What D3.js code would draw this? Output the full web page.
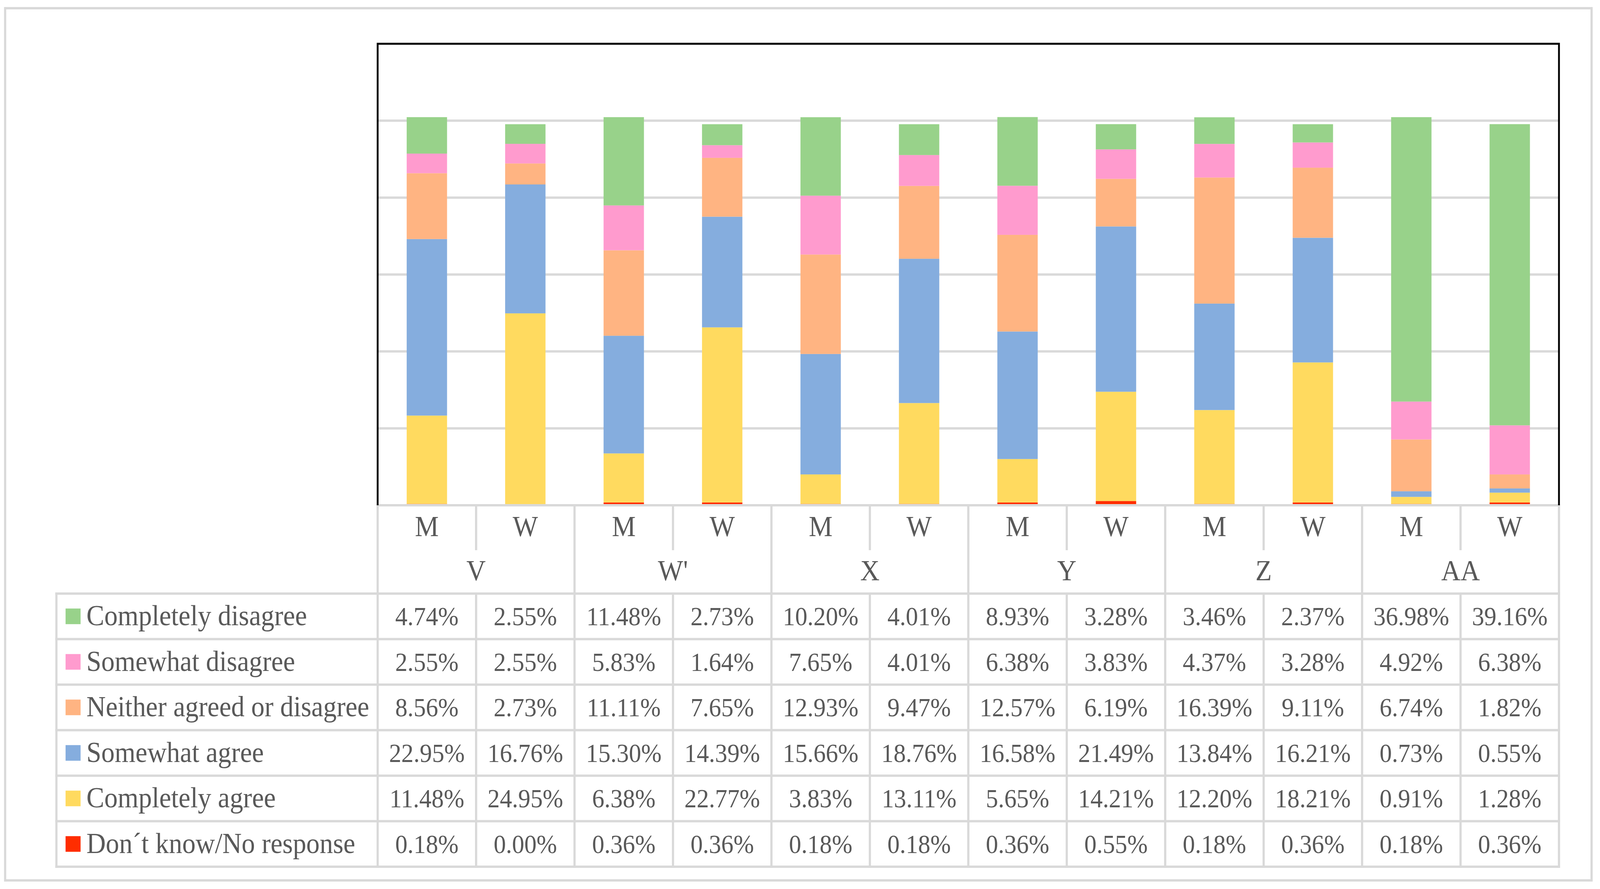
<!DOCTYPE html>
<html lang="en">
<head>
<meta charset="utf-8">
<title>Stacked bars with data table</title>
<style>
  html, body { margin: 0; padding: 0; background: #fff; overflow: hidden; }
  svg { display: block; width: 100vw; height: 100vh; }
  text { font-family: "Liberation Serif", "DejaVu Serif", serif; fill: #595959; }
</style>
</head>
<body>
<div id="chart"></div>
<script src="https://d3js.org/d3.v7.min.js"></script>
<script>
  // Groups and sub groups
  const groups = ["V", "W'", "X", "Y", "Z", "AA"];
  const genders = ["M", "W"];

  // Series, top row of the table first
  const seriesNames = [
    "Completely disagree",
    "Somewhat disagree",
    "Neither agreed or disagree",
    "Somewhat agree",
    "Completely agree",
    "Don\u00b4t know/No response"
  ];
  const seriesColors = ["#98d28a", "#ff9bce", "#ffb482", "#85adde", "#ffda5f", "#ff2d00"];

  // values per column: V M, V W, W' M, W' W, X M, X W, Y M, Y W, Z M, Z W, AA M, AA W
  const completelyDisagree = [4.74, 2.55, 11.48, 2.73, 10.20, 4.01, 8.93, 3.28, 3.46, 2.37, 36.98, 39.16];
  const somewhatDisagree   = [2.55, 2.55, 5.83, 1.64, 7.65, 4.01, 6.38, 3.83, 4.37, 3.28, 4.92, 6.38];
  const neitherAgreed      = [8.56, 2.73, 11.11, 7.65, 12.93, 9.47, 12.57, 6.19, 16.39, 9.11, 6.74, 1.82];
  const somewhatAgree      = [22.95, 16.76, 15.30, 14.39, 15.66, 18.76, 16.58, 21.49, 13.84, 16.21, 0.73, 0.55];
  const completelyAgree    = [11.48, 24.95, 6.38, 22.77, 3.83, 13.11, 5.65, 14.21, 12.20, 18.21, 0.91, 1.28];
  const dontKnow           = [0.18, 0.00, 0.36, 0.36, 0.18, 0.18, 0.36, 0.55, 0.18, 0.36, 0.18, 0.36];

  const yTicks = [0, 10, 20, 30, 40, 50, 60];

  const seriesValues = [completelyDisagree, somewhatDisagree, neitherAgreed, somewhatAgree, completelyAgree, dontKnow];

  // build one row per column for d3.stack
  const columns = [];
  groups.forEach(g => genders.forEach(s => columns.push({ id: g + "|" + s, group: g, gender: s })));
  const keys = seriesNames.slice().reverse(); // stack from the bottom
  const rows = columns.map((c, i) => {
    const r = { id: c.id };
    seriesNames.forEach((n, k) => { r[n] = seriesValues[k][i]; });
    return r;
  });

  const width = 4368, height = 2275;
  const plotLeft = 1031, plotRight = 4256, plotTop = 112, plotBottom = 1293;
  const tableLeft = 154;
  const head1 = 112, head2 = 114, rowH = 116.5;
  const bodyTop = plotBottom + head1 + head2;
  const tableBottom = bodyTop + rowH * seriesNames.length;
  const gridColor = "#d9d9d9";

  // drawn in a 4368x2275 frame, stretched onto the window
  const svg = d3.select("#chart").append("svg")
    .attr("viewBox", `0 0 ${width} ${height}`)
    .attr("preserveAspectRatio", "none");

  svg.append("rect")
    .attr("width", width).attr("height", height)
    .attr("fill", "#fff");

  // outer frame
  svg.append("rect")
    .attr("x", 14).attr("y", 21)
    .attr("width", 4331).attr("height", 2232)
    .attr("fill", "none")
    .attr("stroke", gridColor)
    .attr("stroke-width", 6);

  const x = d3.scaleBand()
    .domain(columns.map(c => c.id))
    .range([plotLeft, plotRight]);

  const y = d3.scaleLinear()
    .domain([0, 60])
    .range([plotBottom, plotTop]);

  const color = d3.scaleOrdinal().domain(seriesNames).range(seriesColors);

  // gridlines
  svg.append("g")
    .selectAll("line")
    .data(yTicks.filter(t => t > 0 && t < 60))
    .join("line")
    .attr("x1", plotLeft).attr("x2", plotRight)
    .attr("y1", d => y(d)).attr("y2", d => y(d))
    .attr("stroke", gridColor)
    .attr("stroke-width", 6);

  // stacked bars
  const stacked = d3.stack().keys(keys)(rows);
  const barW = x.bandwidth() * 0.41;

  svg.append("g")
    .selectAll("g")
    .data(stacked)
    .join("g")
    .attr("fill", d => color(d.key))
    .selectAll("rect")
    .data(d => d)
    .join("rect")
    .attr("x", d => x(d.data.id) + (x.bandwidth() - barW) / 2)
    .attr("width", barW)
    .attr("y", d => y(d[1]))
    .attr("height", d => y(d[0]) - y(d[1]));

  // table grid
  const lines = svg.append("g")
    .attr("stroke", gridColor)
    .attr("stroke-width", 6)
    .attr("stroke-linecap", "square");

  lines.append("line")
    .attr("x1", plotLeft).attr("x2", plotRight)
    .attr("y1", plotBottom).attr("y2", plotBottom);

  d3.range(seriesNames.length + 1).forEach(k => {
    lines.append("line")
      .attr("x1", tableLeft).attr("x2", plotRight)
      .attr("y1", bodyTop + k * rowH).attr("y2", bodyTop + k * rowH);
  });

  lines.append("line")
    .attr("x1", tableLeft).attr("x2", tableLeft)
    .attr("y1", bodyTop).attr("y2", tableBottom);

  d3.range(columns.length + 1).forEach(i => {
    const xx = plotLeft + i * x.bandwidth();
    if (i % 2 === 0) {
      lines.append("line")
        .attr("x1", xx).attr("x2", xx)
        .attr("y1", plotBottom).attr("y2", tableBottom);
    } else {
      lines.append("line")
        .attr("x1", xx).attr("x2", xx)
        .attr("y1", plotBottom).attr("y2", plotBottom + head1);
      lines.append("line")
        .attr("x1", xx).attr("x2", xx)
        .attr("y1", bodyTop).attr("y2", tableBottom);
    }
  });

  // black plot frame
  svg.append("path")
    .attr("d", `M${plotLeft},${plotBottom}V${plotTop}H${plotRight}V${plotBottom}`)
    .attr("fill", "none")
    .attr("stroke", "#000")
    .attr("stroke-width", 5);

  // header text
  const labelSize = 73, numSize = 67;

  svg.append("g")
    .selectAll("text")
    .data(columns)
    .join("text")
    .attr("x", d => x(d.id) + x.bandwidth() / 2)
    .attr("y", plotBottom + head1 / 2 + 23)
    .attr("text-anchor", "middle")
    .attr("font-size", labelSize)
    .text(d => d.gender);

  svg.append("g")
    .selectAll("text")
    .data(groups)
    .join("text")
    .attr("x", (d, i) => plotLeft + (2 * i + 1) * x.bandwidth())
    .attr("y", plotBottom + head1 + head2 / 2 + 23)
    .attr("text-anchor", "middle")
    .attr("font-size", labelSize)
    .text(d => d);

  // table body
  const body = svg.append("g");
  seriesNames.forEach((name, k) => {
    const cy = bodyTop + k * rowH + rowH / 2;
    body.append("rect")
      .attr("x", 179).attr("y", cy - 20)
      .attr("width", 41).attr("height", 40)
      .attr("fill", color(name));
    body.append("text")
      .attr("x", 236).attr("y", cy + 23)
      .attr("font-size", labelSize)
      .text(name);
    body.selectAll(null)
      .data(seriesValues[k])
      .join("text")
      .attr("x", (d, i) => x(columns[i].id) + x.bandwidth() / 2)
      .attr("y", cy + 23)
      .attr("text-anchor", "middle")
      .attr("font-size", numSize)
      .text(d => d.toFixed(2) + "%");
  });
</script>
</body>
</html>
